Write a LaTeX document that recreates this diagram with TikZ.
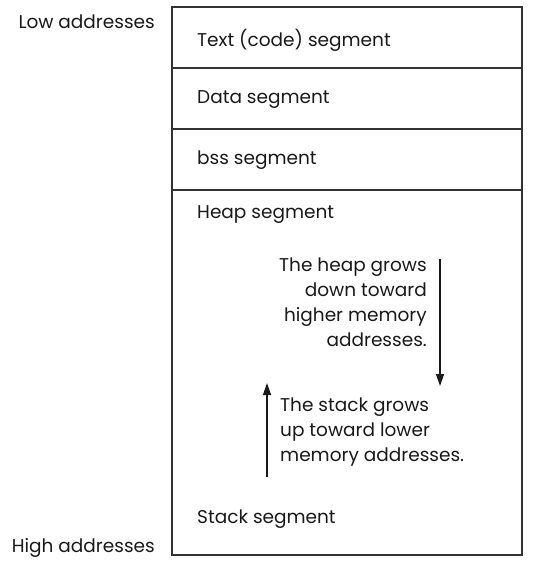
\documentclass[tikz,border=0pt]{standalone}
\usepackage{fontspec}
\setmainfont{Poppins}
\usetikzlibrary{positioning,calc,arrows.meta}
\definecolor{LineGray}{RGB}{50,50,50}
\definecolor{InkBlack}{RGB}{25,25,25}

\begin{document}
\begin{tikzpicture}[
    x=1pt, y=-1pt,
    font=\fontsize{18.5}{25}\selectfont,
    text=InkBlack,
    cell/.style={
        draw=LineGray,
        line width=1.1pt,
        minimum width=350pt,
        minimum height=61pt,
        inner sep=0pt
    },
    seglbl/.style={anchor=west, inner sep=0pt},
    addrlbl/.style={anchor=east, inner sep=0pt},
    growarrow/.style={-{Triangle[length=12pt,width=8pt]}, line width=1.3pt, draw=InkBlack}
]
\useasboundingbox (0,0) rectangle (533,569);

% memory column
\node[cell] (textseg) at (347,37.5) {};
\node[cell] (dataseg) at (347,98.5) {};
\node[cell] (bssseg) at (347,159.5) {};
\node[cell, minimum height=365pt] (heapseg) at (347,372.5) {};

\node[seglbl] (textlbl) at (197,40) {Text (code) segment};
\node[seglbl] (datalbl) at (197,100) {Data segment};
\node[seglbl] (bsslbl) at (197,160) {bss segment};
\node[seglbl] (heaplbl) at (197,215) {Heap segment};
\node[seglbl] (stacklbl) at (197,519) {Stack segment};

% address labels
\node[addrlbl] (low) at (155,22) {Low addresses};
\node[addrlbl] (high) at (155,548) {High addresses};

% growth notes
\node[anchor=north east, align=right, inner sep=0pt] (heapnote) at (427,258)
{The heap grows\\down toward\\higher memory\\addresses.};
\node[anchor=north west, align=left, inner sep=0pt] (stacknote) at (280,398)
{The stack grows\\up toward lower\\memory addresses.};

\coordinate (heaptop) at (440,259);
\coordinate (heapend) at (440,386);
\coordinate (stackbot) at (267,477);
\coordinate (stackend) at (267,383);
\draw[growarrow] (heaptop) -- (heapend);
\draw[growarrow] (stackbot) -- (stackend);

\end{tikzpicture}
\end{document}
